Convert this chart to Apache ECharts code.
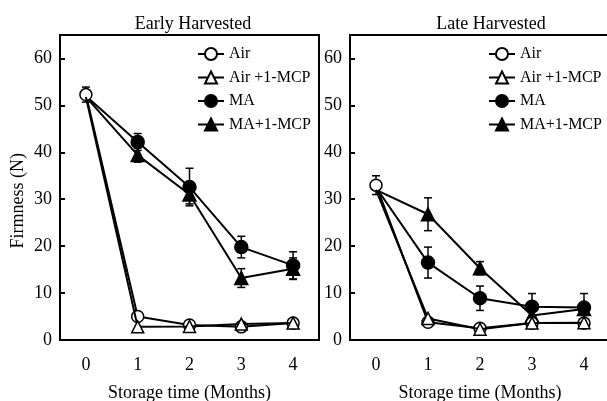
<!DOCTYPE html>
<html>
<head>
<meta charset="utf-8">
<script src="https://cdn.jsdelivr.net/npm/echarts@6/dist/echarts.min.js"></script>
<style>
html,body{margin:0;padding:0;background:#fff;}
#c{width:607px;height:401px;}
</style>
</head>
<body>
<div id="c"></div>
<script>
var months = ['0', '1', '2', '3', '4'];
var seriesNames = ['Air', 'Air +1-MCP', 'MA', 'MA+1-MCP'];
var panelTitles = ['Early Harvested', 'Late Harvested'];

// Early harvested
var earlyAir = [52.3, 5.0, 3.2, 2.8, 3.6];
var earlyAirErr = [1.6, 0, 0, 0, 0];
var earlyAirMcp = [51.8, 2.8, 2.9, 3.4, 3.6];
var earlyAirMcpErr = [0, 0, 0, 0, 0];
var earlyMA = [52.0, 42.2, 32.6, 19.8, 15.9];
var earlyMAErr = [0, 1.8, 4.0, 2.3, 2.9];
var earlyMAMcp = [51.8, 39.4, 31.0, 13.2, 15.2];
var earlyMAMcpErr = [0, 1.5, 2.0, 2.0, 2.3];

// Late harvested
var lateAir = [33.0, 3.8, 2.5, 3.6, 3.6];
var lateAirErr = [2.0, 0, 0, 0, 0];
var lateAirMcp = [32.0, 4.6, 2.3, 3.6, 3.7];
var lateAirMcpErr = [0, 0, 0, 0, 0];
var lateMA = [32.5, 16.5, 8.9, 7.1, 6.9];
var lateMAErr = [0, 3.3, 2.6, 2.8, 3.0];
var lateMAMcp = [32.0, 26.8, 15.3, 5.2, 6.6];
var lateMAMcpErr = [0, 3.5, 1.4, 0, 0];

var yTicks = [0, 10, 20, 30, 40, 50, 60];

var FONT = 'Liberation Serif';
var chart = echarts.init(document.getElementById('c'));

var styles = [
  {symbol: 'circle', size: 12, fill: '#fff', z: 5},
  {symbol: 'triangle', size: 12, fill: '#fff', z: 6},
  {symbol: 'circle', size: 13, fill: '#000', z: 4},
  {symbol: 'triangle', size: 13, fill: '#000', z: 3}
];

function errSeries(vals, errs, idx) {
  var data = [];
  for (var i = 0; i < vals.length; i++) {
    if (errs[i] > 0) data.push([i, vals[i] - errs[i], vals[i] + errs[i]]);
  }
  return {
    type: 'custom', xAxisIndex: idx, yAxisIndex: idx, z: 1, silent: true,
    renderItem: function (params, api) {
      var lo = api.coord([api.value(0), api.value(1)]);
      var hi = api.coord([api.value(0), api.value(2)]);
      var w = 4;
      var st = {stroke: '#000', lineWidth: 1.5};
      return {type: 'group', children: [
        {type: 'line', shape: {x1: lo[0], y1: lo[1], x2: hi[0], y2: hi[1]}, style: st},
        {type: 'line', shape: {x1: lo[0] - w, y1: lo[1], x2: lo[0] + w, y2: lo[1]}, style: st},
        {type: 'line', shape: {x1: hi[0] - w, y1: hi[1], x2: hi[0] + w, y2: hi[1]}, style: st}
      ]};
    },
    encode: {x: 0, y: [1, 2]},
    data: data
  };
}

function lineSeries(name, vals, k, idx) {
  var s = styles[k];
  var data = vals.map(function (v, i) {
    // at month 0 only the Air marker is visible (others sit underneath)
    if (i === 0 && k !== 0) return {value: v, symbol: 'none'};
    return v;
  });
  return {
    name: name, type: 'line', xAxisIndex: idx, yAxisIndex: idx, z: s.z,
    data: data, symbol: s.symbol, symbolSize: s.size, showAllSymbol: true,
    lineStyle: {color: '#000', width: 2},
    itemStyle: {color: s.fill, borderColor: '#000', borderWidth: 1.5, opacity: 1},
    emphasis: {disabled: true}, animation: false
  };
}

var panels = [
  [earlyAir, earlyAirMcp, earlyMA, earlyMAMcp],
  [lateAir, lateAirMcp, lateMA, lateMAMcp]
];
var panelErrs = [
  [earlyAirErr, earlyAirMcpErr, earlyMAErr, earlyMAMcpErr],
  [lateAirErr, lateAirMcpErr, lateMAErr, lateMAMcpErr]
];

var series = [];
for (var p = 0; p < 2; p++) {
  for (var k = 0; k < 4; k++) {
    series.push(errSeries(panels[p][k], panelErrs[p][k], p));
  }
  for (var k2 = 0; k2 < 4; k2++) {
    series.push(lineSeries(seriesNames[k2], panels[p][k2], k2, p));
  }
}

function xAxis(i) {
  return {
    type: 'category', gridIndex: i, data: months, boundaryGap: true,
    axisLine: {lineStyle: {color: '#000', width: 2}},
    axisTick: {alignWithLabel: true, inside: true, length: 5, lineStyle: {color: '#000', width: 2}},
    axisLabel: {color: '#000', fontFamily: FONT, fontSize: 18, margin: 16},
    name: 'Storage time (Months)', nameLocation: 'middle', nameGap: 44,
    nameTextStyle: {color: '#000', fontFamily: FONT, fontSize: 18},
    splitLine: {show: false}
  };
}
function yAxis(i) {
  return {
    type: 'value', gridIndex: i, min: 0, max: 65, interval: 10,
    axisLine: {show: true, lineStyle: {color: '#000', width: 2}},
    axisTick: {show: true, inside: true, length: 5, lineStyle: {color: '#000', width: 2}},
    axisLabel: {color: '#000', fontFamily: FONT, fontSize: 18, margin: 8, showMaxLabel: false,
      formatter: function (v) { return yTicks.indexOf(v) >= 0 ? String(v) : ''; }},
    splitLine: {show: false}
  };
}

var legendBase = {
  orient: 'vertical', data: seriesNames, itemWidth: 26, itemHeight: 15, itemGap: 7.5,
  selectedMode: false, padding: 0,
  textStyle: {color: '#000', fontFamily: FONT, fontSize: 16}, top: 46
};

chart.setOption({
  animation: false,
  backgroundColor: '#fff',
  title: [
    {text: panelTitles[0], left: 188, top: 10, textAlign: 'center',
      textStyle: {color: '#000', fontFamily: FONT, fontSize: 18, fontWeight: 'normal'}},
    {text: panelTitles[1], left: 486, top: 10, textAlign: 'center',
      textStyle: {color: '#000', fontFamily: FONT, fontSize: 18, fontWeight: 'normal'}}
  ],
  legend: [
    Object.assign({}, legendBase, {left: 197}),
    Object.assign({}, legendBase, {left: 488})
  ],
  grid: [
    {left: 60, top: 35, width: 259, height: 305, outerBoundsMode: 'none', containLabel: false,
      show: true, borderColor: '#000', borderWidth: 2, backgroundColor: 'transparent'},
    {left: 350, top: 35, width: 260, height: 305, outerBoundsMode: 'none', containLabel: false,
      show: true, borderColor: '#000', borderWidth: 2, backgroundColor: 'transparent'}
  ],
  xAxis: [xAxis(0), xAxis(1)],
  yAxis: [yAxis(0), yAxis(1)],
  graphic: [
    {type: 'text', left: 9, top: 153, rotation: Math.PI / 2,
      style: {text: 'Firmness (N)', fill: '#000', font: '18px "Liberation Serif"'}}
  ],
  series: series
});
</script>
</body>
</html>
